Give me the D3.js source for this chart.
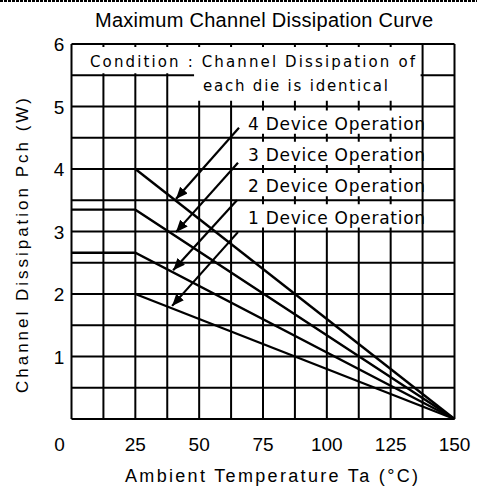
<!DOCTYPE html>
<html><head><meta charset="utf-8">
<script src="https://cdn.jsdelivr.net/npm/d3@7"></script>
<style>body{margin:0;background:#fff} svg{display:block} text{font-family:"Liberation Sans",Arial,sans-serif;fill:#000} .wide{font-family:"DejaVu Sans",sans-serif}</style>
</head><body><svg id="c" width="477" height="493"></svg>
<script>
// ---- data ----
const titleText = "Maximum Channel Dissipation Curve";
const xLabelText = "Ambient Temperature  Ta  (°C)";
const yLabelText = "Channel Dissipation  Pch  (W)";
const conditionLines = ["Condition : Channel Dissipation of", "each die is identical"];
const xTickValues = [0, 25, 50, 75, 100, 125, 150];
const yTickValues = [1, 2, 3, 4, 5, 6];
const xGridValues = [0, 12.5, 25, 37.5, 50, 62.5, 75, 87.5, 100, 112.5, 125, 137.5, 150];
const yGridValues = [0, 0.5, 1, 1.5, 2, 2.5, 3, 3.5, 4, 4.5, 5, 5.5, 6];
const seriesNames = ["4 Device Operation", "3 Device Operation", "2 Device Operation", "1 Device Operation"];
const temps4 = [25, 150],      power4 = [4.0, 0];
const temps3 = [0, 25, 150],   power3 = [3.35, 3.35, 0];
const temps2 = [0, 25, 150],   power2 = [2.66, 2.66, 0];
const temps1 = [25, 150],      power1 = [2.0, 0];
const labelRowLow  = [4.5, 4.0, 3.5, 3.0];
const labelRowHigh = [5.0, 4.5, 4.0, 3.5];
const labelTempFrom = 62.5, labelTempTo = 137.5;
const arrowFromT = [65.6, 65.2, 64.8, 65.2], arrowFromP = [4.66, 4.10, 3.50, 2.99];
const arrowToT   = [40.9, 40.9, 39.8, 39.4], arrowToP   = [3.52, 2.99, 2.38, 1.81];

// ---- chart ----
const svg = d3.select("#c");
const x = d3.scaleLinear().domain([0, 150]).range([71.5, 454.5]);
const y = d3.scaleLinear().domain([0, 6]).range([419, 44]);

// top dotted border
svg.append("line").attr("x1", 0).attr("x2", 477).attr("y1", 1).attr("y2", 1)
  .attr("stroke", "#000").attr("stroke-width", 2).attr("stroke-dasharray", "3,1");

// grid
const g = svg.append("g");
g.selectAll(".vx").data(xGridValues).join("line")
  .attr("x1", d => x(d)).attr("x2", d => x(d)).attr("y1", y(0)).attr("y2", y(6))
  .attr("stroke", "#000").attr("stroke-width", 2);
g.selectAll(".hy").data(yGridValues).join("line")
  .attr("x1", x(0)).attr("x2", x(150)).attr("y1", d => y(d)).attr("y2", d => y(d))
  .attr("stroke", "#000").attr("stroke-width", 2);

// condition box (white cover)
const wb = svg.append("g").attr("fill", "#fff");
wb.append("rect").attr("x", x(0) + 2).attr("y", y(6) + 3)
  .attr("width", x(137.5) - x(0) - 4).attr("height", y(5.5) - y(6) - 5);
wb.append("rect").attr("x", x(37.5) + 2).attr("y", y(5.5) + 2)
  .attr("width", x(137.5) - x(37.5) - 4).attr("height", y(5) - y(5.5) - 8);
wb.append("rect").attr("x", x(48)).attr("y", y(6) + 3)
  .attr("width", x(137.5) - x(48) - 2).attr("height", y(5) - y(6) - 9);

// label boxes
wb.selectAll(".lb").data(labelRowLow).join("rect")
  .attr("x", x(labelTempFrom) + 2).attr("width", x(labelTempTo) - x(labelTempFrom) - 4)
  .attr("y", (d, i) => y(labelRowHigh[i]) + 4)
  .attr("height", (d, i) => y(d) - y(labelRowHigh[i]) - 8);

// condition text
svg.append("text").attr("class", "wide").attr("x", 90).attr("y", 67).attr("font-size", 15)
  .attr("textLength", 325).attr("lengthAdjust", "spacing").text(conditionLines[0]);
svg.append("text").attr("class", "wide").attr("x", 203).attr("y", 91).attr("font-size", 15)
  .attr("textLength", 185).attr("lengthAdjust", "spacing").text(conditionLines[1]);

// series labels
svg.selectAll(".sl").data(seriesNames).join("text").attr("class", "wide")
  .attr("x", x(labelTempFrom) + 17).attr("y", (d, i) => y(labelRowLow[i]) - 8)
  .attr("font-size", 17).attr("textLength", 177).attr("lengthAdjust", "spacing")
  .text(d => d);

// curves
const line = d3.line().x(d => x(d[0])).y(d => y(d[1]));
const curves = [[temps4, power4], [temps3, power3], [temps2, power2], [temps1, power1]];
svg.selectAll(".cv").data(curves).join("path")
  .attr("d", c => line(c[0].map((t, i) => [t, c[1][i]])))
  .attr("fill", "none").attr("stroke", "#000").attr("stroke-width", 2.4);

// arrows
svg.append("defs").append("marker").attr("id", "ah")
  .attr("markerUnits", "userSpaceOnUse").attr("markerWidth", 14).attr("markerHeight", 12)
  .attr("refX", 12).attr("refY", 5).attr("orient", "auto")
  .append("path").attr("d", "M0,0 L12,5 L0,10 Z").attr("fill", "#000");
svg.selectAll(".ar").data(arrowFromT).join("line")
  .attr("x1", (d, i) => x(arrowFromT[i])).attr("y1", (d, i) => y(arrowFromP[i]))
  .attr("x2", (d, i) => x(arrowToT[i])).attr("y2", (d, i) => y(arrowToP[i]))
  .attr("stroke", "#000").attr("stroke-width", 2.2).attr("marker-end", "url(#ah)");

// tick labels
svg.selectAll(".xt").data(xTickValues).join("text")
  .attr("x", d => x(d) + (d === 0 ? -12 : 0)).attr("y", 451)
  .attr("text-anchor", "middle").attr("font-size", 19).text(d => d);
svg.selectAll(".yt").data(yTickValues).join("text")
  .attr("x", 59).attr("y", d => y(d) + 7)
  .attr("text-anchor", "middle").attr("font-size", 19).text(d => d);

// titles
svg.append("text").attr("x", 95).attr("y", 27).attr("font-size", 20)
  .attr("textLength", 338).attr("lengthAdjust", "spacing").text(titleText);
svg.append("text").attr("x", 125).attr("y", 482).attr("font-size", 18)
  .attr("textLength", 293).attr("lengthAdjust", "spacing").text(xLabelText);
svg.append("text").attr("transform", "translate(28,393) rotate(-90)").attr("font-size", 17)
  .attr("textLength", 295).attr("lengthAdjust", "spacing").text(yLabelText);
</script></body></html>
